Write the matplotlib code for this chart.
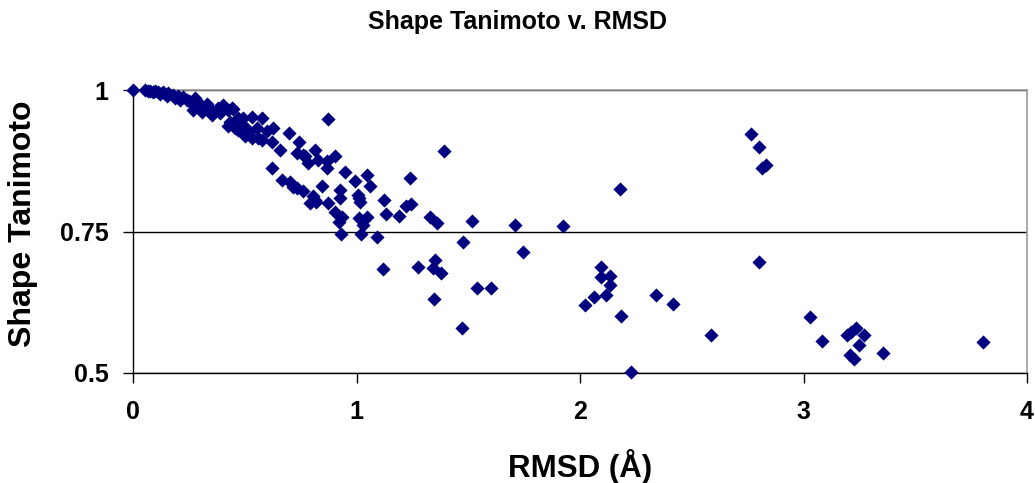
import matplotlib
matplotlib.use("Agg")
import matplotlib.pyplot as plt

# RMSD (A) vs shape Tanimoto
rmsd = [
    0.0, 0.054, 0.065, 0.076, 0.09, 0.098, 0.113, 0.12, 0.136, 0.15, 0.158, 0.18, 0.19,
    0.202, 0.21, 0.225, 0.24, 0.25, 0.277, 0.27, 0.29, 0.298, 0.31, 0.32, 0.33, 0.343,
    0.352, 0.359, 0.38, 0.39, 0.404, 0.426, 0.441, 0.449, 0.434, 0.426, 0.47, 0.456,
    0.46, 0.486, 0.494, 0.50, 0.52, 0.531, 0.575, 0.471, 0.501, 0.531, 0.56, 0.575,
    0.553, 0.598, 0.627, 0.62, 0.657, 0.699, 0.744, 0.732, 0.762, 0.769, 0.784, 0.814,
    0.829, 0.866, 0.903, 0.871, 0.866, 0.62, 0.665, 0.702, 0.717, 0.762, 0.732, 0.844,
    0.948, 0.993, 0.806, 0.814, 0.792, 0.821, 0.873, 0.926, 0.926, 0.903, 0.933, 1.006,
    1.012, 1.015, 1.045, 1.06, 0.923, 0.929, 1.012, 1.049, 1.03, 1.02, 1.09, 1.124,
    1.131, 1.191, 1.221, 1.246, 1.239, 1.392, 1.331, 1.358, 1.517, 1.708, 1.477, 1.746,
    1.119, 1.273, 1.343, 1.351, 1.376, 1.541, 1.604, 1.346, 1.473, 1.922, 2.177, 2.096,
    2.096, 2.136, 2.136, 2.115, 2.062, 2.021, 2.182, 2.338, 2.418, 2.584, 2.227, 2.767,
    2.80, 2.816, 2.834, 2.80, 3.03, 3.081, 3.196, 3.214, 3.236, 3.269, 3.248, 3.207,
    3.225, 3.356, 3.803,
]
tanimoto = [
    1.0, 1.0, 0.998, 0.999, 0.996, 0.998, 0.997, 0.993, 0.996, 0.99, 0.994, 0.992, 0.986,
    0.99, 0.983, 0.987, 0.982, 0.98, 0.985, 0.965, 0.972, 0.976, 0.962, 0.97, 0.975, 0.967,
    0.956, 0.959, 0.968, 0.96, 0.973, 0.965, 0.968, 0.967, 0.944, 0.936, 0.95, 0.932,
    0.94, 0.926, 0.95, 0.935, 0.925, 0.953, 0.95, 0.93, 0.918, 0.915, 0.915, 0.912,
    0.933, 0.927, 0.933, 0.909, 0.894, 0.924, 0.909, 0.889, 0.886, 0.883, 0.871, 0.894,
    0.877, 0.874, 0.883, 0.949, 0.862, 0.862, 0.841, 0.838, 0.829, 0.821, 0.827, 0.831,
    0.855, 0.84, 0.812, 0.806, 0.8, 0.803, 0.801, 0.824, 0.809, 0.785, 0.776, 0.815,
    0.809, 0.803, 0.85, 0.831, 0.766, 0.746, 0.774, 0.775, 0.762, 0.746, 0.74, 0.806,
    0.781, 0.778, 0.795, 0.799, 0.844, 0.893, 0.776, 0.765, 0.768, 0.761, 0.731, 0.713,
    0.683, 0.688, 0.685, 0.699, 0.676, 0.65, 0.65, 0.631, 0.579, 0.76, 0.825, 0.688,
    0.669, 0.672, 0.655, 0.637, 0.635, 0.62, 0.601, 0.638, 0.622, 0.567, 0.502, 0.923,
    0.9, 0.862, 0.868, 0.696, 0.599, 0.557, 0.568, 0.573, 0.579, 0.567, 0.549, 0.532,
    0.525, 0.536, 0.554,
]

x_ticks = [0, 1, 2, 3, 4]
x_tick_labels = ["0", "1", "2", "3", "4"]
y_ticks = [0.5, 0.75, 1.0]
y_tick_labels = ["0.5", "0.75", "1"]

title = "Shape Tanimoto v. RMSD"
x_label = "RMSD (Å)"
y_label = "Shape Tanimoto"

plt.rcParams["font.family"] = ["Liberation Sans", "DejaVu Sans"]
plt.rcParams["font.weight"] = "bold"

fig = plt.figure(figsize=(10.35, 4.83), dpi=100)
ax = fig.add_axes([133 / 1035, 1 - 373 / 483, 894 / 1035, 283 / 483])

ax.scatter(rmsd, tanimoto, marker="D", s=52, color="#000080", linewidths=0,
           clip_on=False, zorder=3)

ax.set_xlim(0, 4)
ax.set_ylim(0.5, 1.0)
ax.set_xticks(x_ticks)
ax.set_xticklabels(x_tick_labels, fontsize=18, fontweight="bold")
ax.set_yticks(y_ticks)
ax.set_yticklabels(y_tick_labels, fontsize=18, fontweight="bold")
ax.tick_params(axis="x", direction="out", length=7.2, width=1, pad=12)
ax.tick_params(axis="y", direction="out", length=7.2, width=1, pad=10.5)

ax.set_axisbelow(True)
ax.yaxis.grid(True, color="black", linewidth=1)

for side in ["left", "bottom"]:
    ax.spines[side].set_color("black")
    ax.spines[side].set_linewidth(1)
for side in ["top", "right"]:
    ax.spines[side].set_color("#9a9a9a")
    ax.spines[side].set_linewidth(1.2)

ax.set_xlabel(x_label, fontsize=22.5, fontweight="bold")
ax.xaxis.set_label_coords(0.5, -0.27)
ax.set_ylabel(y_label, fontsize=23, fontweight="bold")
ax.yaxis.set_label_coords(-0.106, 0.527)

fig.text(517 / 1035, 1 - 29 / 483, title, fontsize=18, fontweight="bold",
         ha="center", va="baseline")

fig.savefig("out.png", dpi=100)
